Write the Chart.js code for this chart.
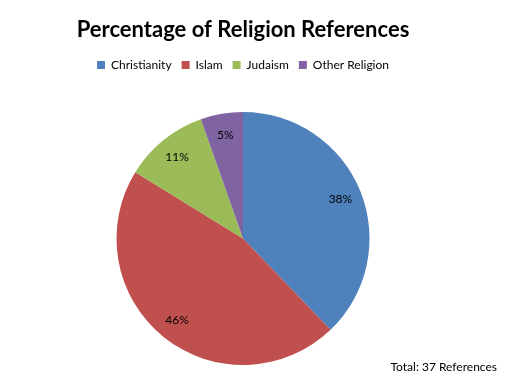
<!DOCTYPE html>
<html>
<head>
<meta charset="utf-8">
<script src="https://cdn.jsdelivr.net/npm/chart.js@4"></script>
<style>
  html, body { margin: 0; padding: 0; background: #fff; }
  #wrap { width: 508px; height: 389px; }
</style>
</head>
<body>
<div id="wrap"><canvas id="religion_chart" width="508" height="389"></canvas></div>
<script>
// 宗教別の参照件数
const religions = ['Christianity', 'Islam', 'Judaism', 'Other Religion'];
const refCounts = [14, 17, 4, 2];
const sliceColors = ['#4F81BD', '#C0504D', '#9BBB59', '#8064A2'];
const chartTitle = 'Percentage of Religion References';
const totalNote = 'Total: 37 References';

Chart.defaults.font.family = 'Lato, "Open Sans", sans-serif';
Chart.defaults.color = '#000';

// 凡例の下に余白を足してパイを下げる
const legendSpacer = {
  id: 'legendSpacer',
  beforeInit(chart) {
    const fit = chart.legend.fit;
    chart.legend.fit = function () {
      fit.bind(chart.legend)();
      this.height += 31;
    };
  }
};

// パーセント表示と合計テキスト
const pieLabels = {
  id: 'pieLabels',
  afterDatasetsDraw(chart) {
    const ctx = chart.ctx;
    const meta = chart.getDatasetMeta(0);
    const data = chart.data.datasets[0].data;
    const sum = data.reduce((a, b) => a + b, 0);
    ctx.save();
    ctx.font = '12px Lato, sans-serif';
    ctx.fillStyle = '#000';
    ctx.textAlign = 'center';
    ctx.textBaseline = 'middle';
    meta.data.forEach(function (arc, i) {
      const p = arc.getProps(['x', 'y', 'startAngle', 'endAngle', 'outerRadius'], true);
      const mid = (p.startAngle + p.endAngle) / 2;
      const r = p.outerRadius * 0.83;
      const pct = Math.round(data[i] / sum * 100) + '%';
      ctx.fillText(pct, p.x + Math.cos(mid) * r, p.y + Math.sin(mid) * r);
    });
    ctx.textAlign = 'right';
    ctx.fillText(totalNote, 497, 367);
    ctx.restore();
  }
};

let pieCtx = document.getElementById('religion_chart');
let pieConfig = {
  type: 'pie',
  data: {
    labels: religions,
    datasets: [{
      data: refCounts,
      backgroundColor: sliceColors,
      borderWidth: 0
    }]
  },
  options: {
    responsive: false,
    animation: false,
    layout: {
      padding: { top: 5, bottom: 24, left: 0, right: 22 }
    },
    plugins: {
      title: {
        display: true,
        text: chartTitle,
        font: { size: 22, weight: 'bold' },
        color: '#000',
        padding: { top: 12, bottom: 5.6 }
      },
      legend: {
        position: 'top',
        labels: {
          boxWidth: 8,
          boxHeight: 8,
          padding: 10,
          font: { size: 12 },
          color: '#000'
        }
      },
      tooltip: { enabled: false }
    }
  },
  plugins: [legendSpacer, pieLabels]
};
let pieChart = new Chart(pieCtx, pieConfig);
</script>
</body>
</html>
